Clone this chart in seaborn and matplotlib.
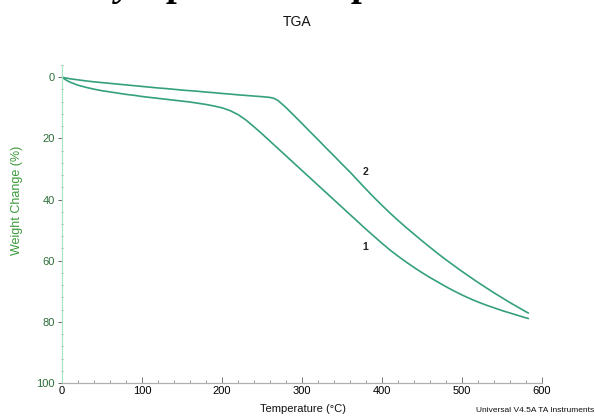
import matplotlib
matplotlib.use('Agg')
import matplotlib.pyplot as plt
import seaborn as sns
import pandas as pd
from matplotlib.ticker import MultipleLocator

# TGA curves (temperature in C, weight change in %)
temp_1 = [0, 5, 10, 20, 30, 40, 50, 60, 70, 80, 90, 100, 110, 120, 130, 140,
          150, 160, 170, 180, 190, 200, 210, 220, 230, 240, 250, 260, 270, 280,
          290, 300, 310, 320, 330, 340, 350, 360, 370, 380, 390, 400, 410, 420,
          430, 440, 450, 460, 470, 480, 490, 500, 510, 520, 530, 540, 550, 560,
          570, 580, 583]
weight_1 = [0, 0.9, 1.6, 2.6, 3.3, 3.9, 4.4, 4.8, 5.2, 5.6, 5.9, 6.3, 6.6, 6.9,
            7.2, 7.5, 7.8, 8.1, 8.5, 8.9, 9.4, 10.0, 10.9, 12.2, 14.0, 16.2,
            18.5, 20.9, 23.3, 25.7, 28.1, 30.5, 32.9, 35.3, 37.7, 40.1, 42.5,
            44.9, 47.3, 49.7, 52.0, 54.3, 56.5, 58.5, 60.4, 62.2, 63.9, 65.5,
            67.0, 68.5, 69.9, 71.2, 72.4, 73.5, 74.5, 75.4, 76.3, 77.1, 77.9,
            78.7, 78.9]

temp_2 = [0, 10, 20, 30, 40, 50, 60, 70, 80, 90, 100, 110, 120, 130, 140, 150,
          160, 170, 180, 190, 200, 210, 220, 230, 240, 250, 260, 265, 270, 280,
          290, 300, 310, 320, 330, 340, 350, 360, 370, 380, 390, 400, 410, 420,
          430, 440, 450, 460, 470, 480, 490, 500, 510, 520, 530, 540, 550, 560,
          570, 580, 583]
weight_2 = [0, 0.5, 0.85, 1.2, 1.5, 1.75, 2.0, 2.25, 2.5, 2.75, 3.0, 3.25, 3.5,
            3.7, 3.95, 4.2, 4.4, 4.6, 4.85, 5.05, 5.3, 5.5, 5.75, 5.95, 6.15,
            6.35, 6.6, 6.9, 7.6, 9.9, 12.5, 15.1, 17.8, 20.4, 23.1, 25.7, 28.4,
            31.0, 33.8, 36.6, 39.3, 41.9, 44.4, 46.8, 49.1, 51.3, 53.5, 55.6,
            57.7, 59.7, 61.6, 63.5, 65.3, 67.1, 68.8, 70.5, 72.1, 73.7, 75.2,
            76.7, 77.1]

curve_labels = ['1', '2']
label_pos = [(379, 55.5), (379, 31.0)]

df = pd.concat([
    pd.DataFrame({'Temperature': temp_1, 'Weight': weight_1, 'Sample': '1'}),
    pd.DataFrame({'Temperature': temp_2, 'Weight': weight_2, 'Sample': '2'}),
])

sns.set_style('white')
plt.rcParams['font.family'] = ['Liberation Sans', 'DejaVu Sans']

line_col = '#35a07f'
fig = plt.figure(figsize=(5.95, 4.16), dpi=100)
ax = fig.add_axes([0.1042, 0.0793, 0.8067, 0.7644])

sns.lineplot(data=df, x='Temperature', y='Weight', units='Sample', estimator=None,
             color=line_col, linewidth=1.2, ax=ax)

for lab, (tx, wy) in zip(curve_labels, label_pos):
    ax.text(tx, wy, lab, fontsize=7.5, fontweight='bold', color='#222222',
            ha='center', va='center')

ax.set_xlim(0, 600)
ax.set_ylim(100, -4)
ax.xaxis.set_major_locator(MultipleLocator(100))
ax.xaxis.set_minor_locator(MultipleLocator(20))
ax.yaxis.set_major_locator(MultipleLocator(20))
ax.yaxis.set_minor_locator(MultipleLocator(4))

for s in ['top', 'right']:
    ax.spines[s].set_visible(False)
ax.spines['left'].set_color('#a8e6c0')
ax.spines['bottom'].set_color('#b0b0b0')
ax.spines['left'].set_linewidth(0.9)
ax.spines['bottom'].set_linewidth(0.9)

ax.tick_params(axis='x', which='major', direction='in', length=4, width=0.7,
               color='#777777', labelsize=8, labelcolor='#000000', pad=2)
ax.tick_params(axis='x', which='minor', direction='in', length=2, width=0.6,
               color='#888888')
ax.tick_params(axis='y', which='major', direction='out', length=3, width=0.7,
               color='#666666', labelsize=8, labelcolor='#2d6e3a', pad=2)
ax.tick_params(axis='y', which='minor', direction='inout', length=2, width=0.6,
               color='#777777')
ax.tick_params(left=True, bottom=True, which='both')

ax.set_xlabel('Temperature (\u00b0C)', fontsize=8, color='#111111')
ax.set_ylabel('Weight Change (%)', fontsize=9, color='#3a9a3a')
ax.xaxis.set_label_coords(0.502, -0.066)
ax.yaxis.set_label_coords(-0.081, 0.575)

fig.text(0.499, 0.947, 'TGA', fontsize=10, ha='center', va='center', color='#111111')
fig.text(0.998, 0.014, 'Universal V4.5A TA Instruments', fontsize=6, ha='right',
         va='center', color='#111111')

# cut-off heading fragments at the very top edge
for gx, g in [(0.210, 'y'), (0.300, 'p'), (0.611, 'p')]:
    fig.text(gx, 1.012, g, fontsize=28, fontweight='bold', fontstyle='italic',
             family='Liberation Serif', ha='center', va='baseline', color='black')

fig.savefig('out.png', dpi=100)
